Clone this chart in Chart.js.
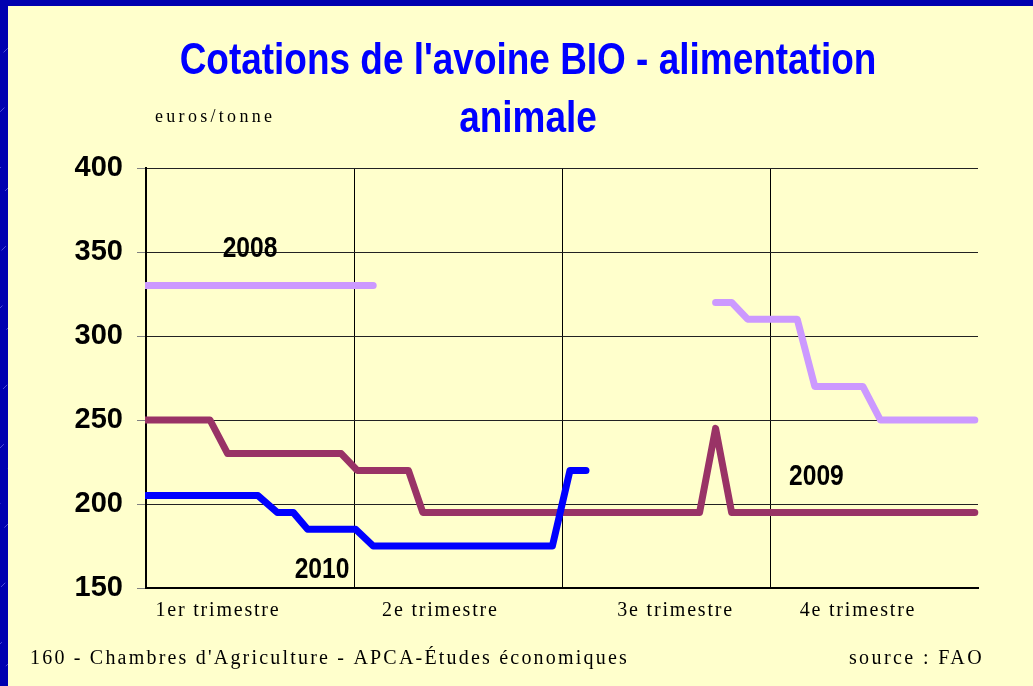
<!DOCTYPE html>
<html lang="fr">
<head>
<meta charset="utf-8">
<title>Cotations de l'avoine BIO - alimentation animale</title>
<script src="https://cdn.jsdelivr.net/npm/chart.js@4.4.1/dist/chart.umd.min.js"></script>
<style>
  html, body { margin: 0; padding: 0; background: #0000b0; }
  canvas { display: block; }
</style>
</head>
<body>
<canvas id="chart" width="1033" height="686"></canvas>
<script>
// semaine de l'année (0 = début janvier) et prix en euros/tonne
const weeks2008 = [0, 14.2, 25, 35.6, 36.6, 37.6, 40.7, 41.8, 44.8, 45.9, 51.8];
const prices2008 = [330, 330, null, 320, 320, 310, 310, 270, 270, 250, 250];

const weeks2009 = [0, 4, 5.1, 12.2, 13.2, 16.4, 17.3, 34.6, 35.6, 36.6, 51.8];
const prices2009 = [250, 250, 230, 230, 220, 220, 195, 195, 245, 195, 195];

const weeks2010 = [0, 7, 8.2, 9.2, 10.1, 13.1, 14.2, 25.4, 26.5, 27.5];
const prices2010 = [205, 205, 195, 195, 185, 185, 175, 175, 220, 220];

const quarters = ['1er trimestre', '2e trimestre', '3e trimestre', '4e trimestre'];
const quarterBounds = [0, 13, 26, 39, 52];
const yMin = 150, yMax = 400, yStep = 50;

// where the quarter names sit along the axis (in weeks)
const labelWeeks = [4.5, 18.4, 33.1, 44.5];

const toPoints = (xs, ys) => xs.map((x, i) => ({ x: x, y: ys[i] }));

// no narrow font installed, so squeeze Arial-like text horizontally
function narrowText(ctx, text, x, y, squeeze) {
  ctx.save();
  ctx.translate(x, y);
  ctx.scale(squeeze, 1);
  ctx.fillText(text, 0, 0);
  ctx.restore();
}

const backdrop = {
  id: 'backdrop',
  beforeDraw(chart) {
    const { ctx, width, height } = chart;
    ctx.save();
    ctx.fillStyle = '#0000b0';
    ctx.fillRect(0, 0, width, height);
    ctx.strokeStyle = 'rgba(150,150,255,0.5)';
    ctx.lineWidth = 1;
    ctx.setLineDash([6, 22]);
    for (let k = -height; k < width; k += 28) {
      ctx.beginPath();
      ctx.moveTo(k, height);
      ctx.lineTo(k + height, 0);
      ctx.stroke();
    }
    ctx.setLineDash([]);
    ctx.fillStyle = '#ffffcc';
    ctx.fillRect(8, 6, width - 8, height - 6);
    ctx.restore();
  }
};

const slideTitle = {
  id: 'slideTitle',
  afterDraw(chart, args, opts) {
    const ctx = chart.ctx;
    ctx.save();
    ctx.font = opts.font;
    ctx.fillStyle = opts.color;
    ctx.textAlign = 'center';
    ctx.textBaseline = 'alphabetic';
    opts.lines.forEach((line, i) => narrowText(ctx, line, opts.x, opts.y + i * opts.lineHeight, opts.squeeze));
    ctx.restore();
  }
};

const yearLabels = {
  id: 'yearLabels',
  afterDatasetsDraw(chart, args, opts) {
    const { ctx, scales: { x, y } } = chart;
    ctx.save();
    ctx.font = opts.font;
    ctx.fillStyle = '#000';
    ctx.textAlign = 'center';
    ctx.textBaseline = 'middle';
    opts.items.forEach(it => narrowText(ctx, it.text, x.getPixelForValue(it.x), y.getPixelForValue(it.y), opts.squeeze));
    ctx.restore();
  }
};

const notes = {
  id: 'notes',
  afterDraw(chart, args, opts) {
    const ctx = chart.ctx;
    ctx.save();
    ctx.fillStyle = '#000';
    ctx.textBaseline = 'alphabetic';
    opts.items.forEach(n => {
      ctx.font = n.font;
      ctx.letterSpacing = n.spacing + 'px';
      ctx.textAlign = n.align || 'left';
      ctx.fillText(n.text, n.x, n.y);
    });
    ctx.restore();
  }
};

// the x labels are letter-spaced like the original slide
const spacedTicks = {
  id: 'spacedTicks',
  beforeDraw(chart) {
    const sx = chart.scales.x;
    if (sx._spaced) return;
    const draw = sx.drawLabels.bind(sx);
    sx.drawLabels = area => {
      chart.ctx.save();
      chart.ctx.letterSpacing = '1.8px';
      draw(area);
      chart.ctx.restore();
    };
    sx._spaced = true;
  }
};

const serif = "'Liberation Serif', 'Times New Roman', serif";
const sans = "'Liberation Sans', Arial, sans-serif";

new Chart(document.getElementById('chart'), {
  type: 'line',
  data: {
    datasets: [
      { label: '2010', data: toPoints(weeks2010, prices2010), borderColor: '#0000ff' },
      { label: '2009', data: toPoints(weeks2009, prices2009), borderColor: '#993366' },
      { label: '2008', data: toPoints(weeks2008, prices2008), borderColor: '#cc99ff' }
    ]
  },
  options: {
    responsive: false,
    animation: false,
    layout: { padding: { left: 0, right: 55, top: 168, bottom: 0 } },
    elements: {
      line: { borderWidth: 7, borderCapStyle: 'round', borderJoinStyle: 'round', tension: 0, fill: false },
      point: { radius: 0, hoverRadius: 0 }
    },
    datasets: {
      line: { spanGaps: false, clip: { left: 1, top: 8, right: 8, bottom: 8 } }
    },
    plugins: {
      legend: { display: false },
      tooltip: { enabled: false },
      title: { display: false },
      slideTitle: {
        lines: ["Cotations de l'avoine BIO - alimentation", 'animale'],
        font: 'bold 44px ' + sans,
        color: '#0000ff',
        squeeze: 0.84,
        x: 528,
        y: 74,
        lineHeight: 58
      },
      yearLabels: {
        font: 'bold 30px ' + sans,
        squeeze: 0.82,
        items: [
          { text: '2008', x: 6.5, y: 352 },
          { text: '2010', x: 11, y: 161 },
          { text: '2009', x: 41.9, y: 216 }
        ]
      },
      notes: {
        items: [
          { text: 'euros/tonne', x: 155, y: 122, font: '18px ' + serif, spacing: 3.3 },
          { text: "160 - Chambres d'Agriculture - APCA-Études économiques", x: 30, y: 664, font: '20px ' + serif, spacing: 2.2 },
          { text: 'source : FAO', x: 984, y: 664, align: 'right', font: '20px ' + serif, spacing: 2.4 }
        ]
      }
    },
    scales: {
      x: {
        type: 'linear',
        min: quarterBounds[0],
        max: quarterBounds[quarterBounds.length - 1],
        afterBuildTicks: scale => {
          scale.ticks = quarterBounds.concat(labelWeeks).sort((a, b) => a - b).map(v => ({ value: v }));
        },
        afterFit: scale => { scale.height = 98; },
        grid: {
          color: c => (c.tick && quarterBounds.slice(1, -1).includes(c.tick.value)) ? '#000' : 'rgba(0,0,0,0)',
          lineWidth: 1,
          drawTicks: false
        },
        border: { display: true, color: '#000', width: 2 },
        ticks: {
          autoSkip: false,
          maxRotation: 0,
          padding: 11,
          color: '#000',
          font: { family: serif, size: 20 },
          callback: value => {
            const i = labelWeeks.indexOf(value);
            return i >= 0 ? quarters[i] : '';
          }
        }
      },
      y: {
        min: yMin,
        max: yMax,
        afterFit: scale => { scale.width = 146; },
        grid: { color: '#222', lineWidth: 1, tickColor: '#808080', tickLength: 9 },
        border: { display: true, color: '#000', width: 2 },
        ticks: {
          stepSize: yStep,
          padding: 14,
          color: '#000',
          font: { family: sans, size: 29, weight: 'bold' }
        }
      }
    }
  },
  plugins: [backdrop, spacedTicks, yearLabels, notes, slideTitle]
});
</script>
</body>
</html>
